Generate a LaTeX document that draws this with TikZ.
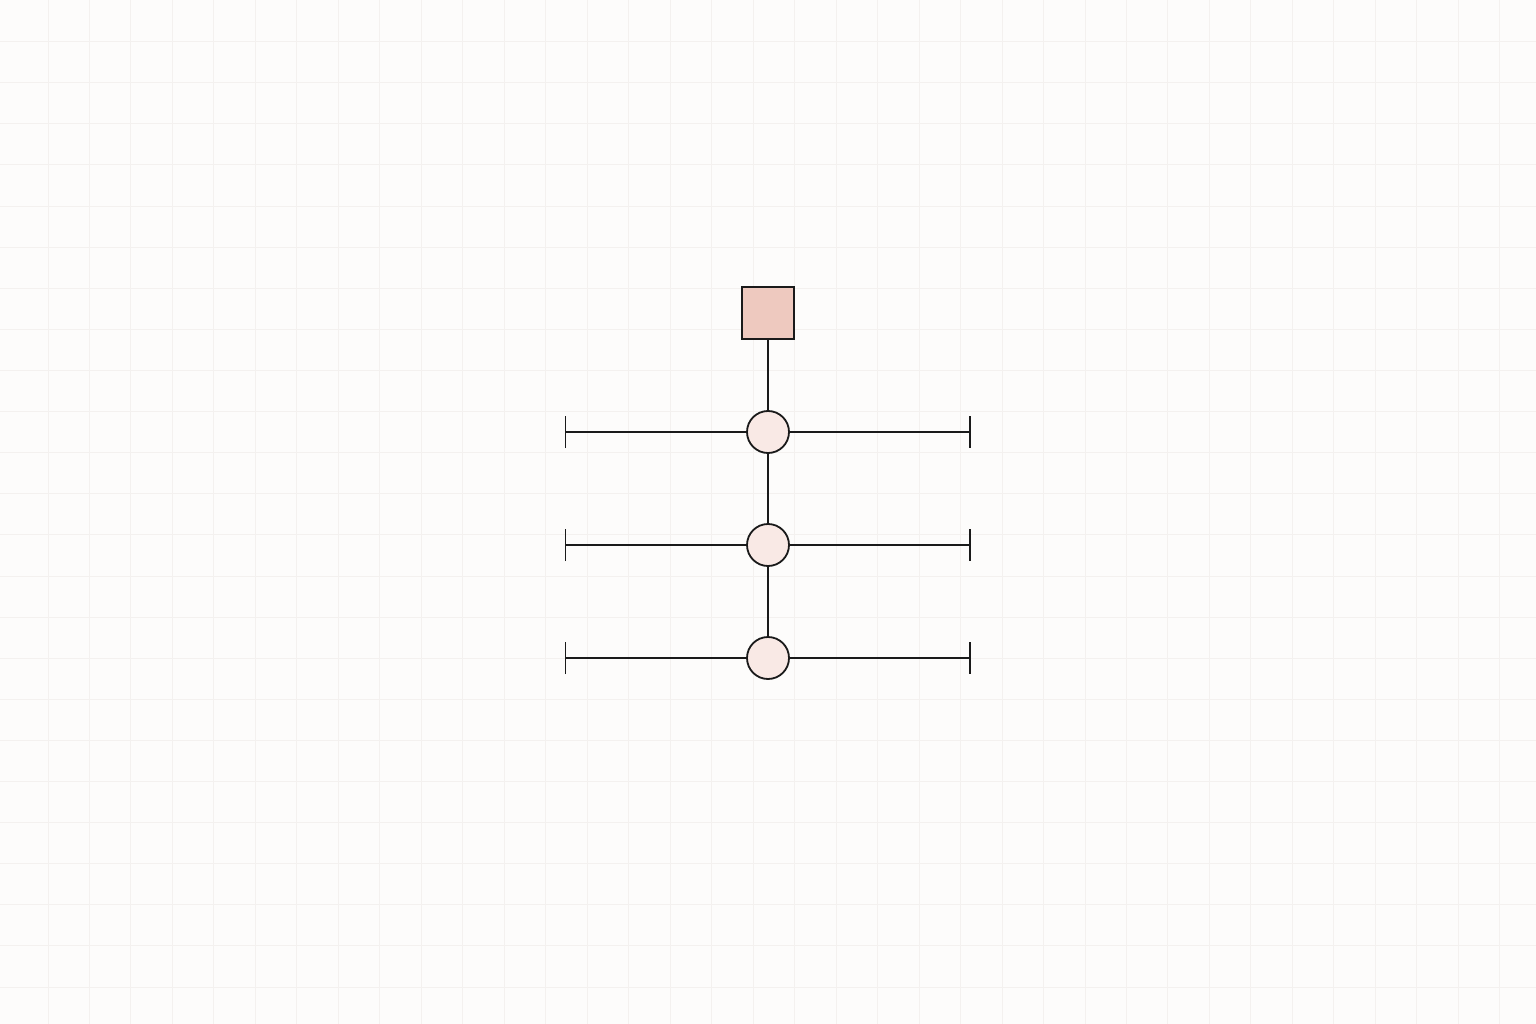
\documentclass[tikz,border=0pt]{standalone}
\usetikzlibrary{arrows.meta}
\definecolor{bgcol}{HTML}{FDFCFB}
\definecolor{gridcol}{HTML}{F4F1EF}
\definecolor{sqfill}{HTML}{EEC9BF}
\definecolor{cfill}{HTML}{F9E9E5}
\definecolor{ink}{HTML}{1A1A1A}
\tikzset{
  px/.style={x=1pt,y=-1pt},
  sqnode/.style={draw=ink, line width=1.8pt, fill=sqfill, minimum size=52pt, inner sep=0pt, rectangle},
  cnode/.style={draw=ink, line width=1.8pt, fill=cfill, circle, minimum size=42pt, inner sep=0pt},
  link/.style={draw=ink, line width=1.8pt},
  barlink/.style={draw=ink, line width=1.8pt, -{Bar[width=32pt,line width=1.8pt]}},
}
\begin{document}
\begin{tikzpicture}[px]
  \fill[bgcol] (0,0) rectangle (1536,1024);
  \useasboundingbox (0,0) rectangle (1536,1024);
  \foreach \i in {0,...,36} {
    \draw[gridcol, line width=1pt] ({48+41.48*\i},0) -- ({48+41.48*\i},1024);
  }
  \foreach \j in {0,...,24} {
    \draw[gridcol, line width=1pt] (0,{41.7+41.1*\j}) -- (1536,{41.7+41.1*\j});
  }
  \node[sqnode] (sq) at (768,313) {};
  \node[cnode] (c1) at (768,432) {};
  \node[cnode] (c2) at (768,545) {};
  \node[cnode] (c3) at (768,658) {};
  \coordinate (l1) at (564.5,432);
  \coordinate (r1) at (971,432);
  \coordinate (l2) at (564.5,545);
  \coordinate (r2) at (971,545);
  \coordinate (l3) at (564.5,658);
  \coordinate (r3) at (971,658);
  \draw[link] (sq) -- (c1);
  \draw[link] (c1) -- (c2);
  \draw[link] (c2) -- (c3);
  \draw[barlink] (c1) -- (l1);
  \draw[barlink] (c1) -- (r1);
  \draw[barlink] (c2) -- (l2);
  \draw[barlink] (c2) -- (r2);
  \draw[barlink] (c3) -- (l3);
  \draw[barlink] (c3) -- (r3);
\end{tikzpicture}
\end{document}
